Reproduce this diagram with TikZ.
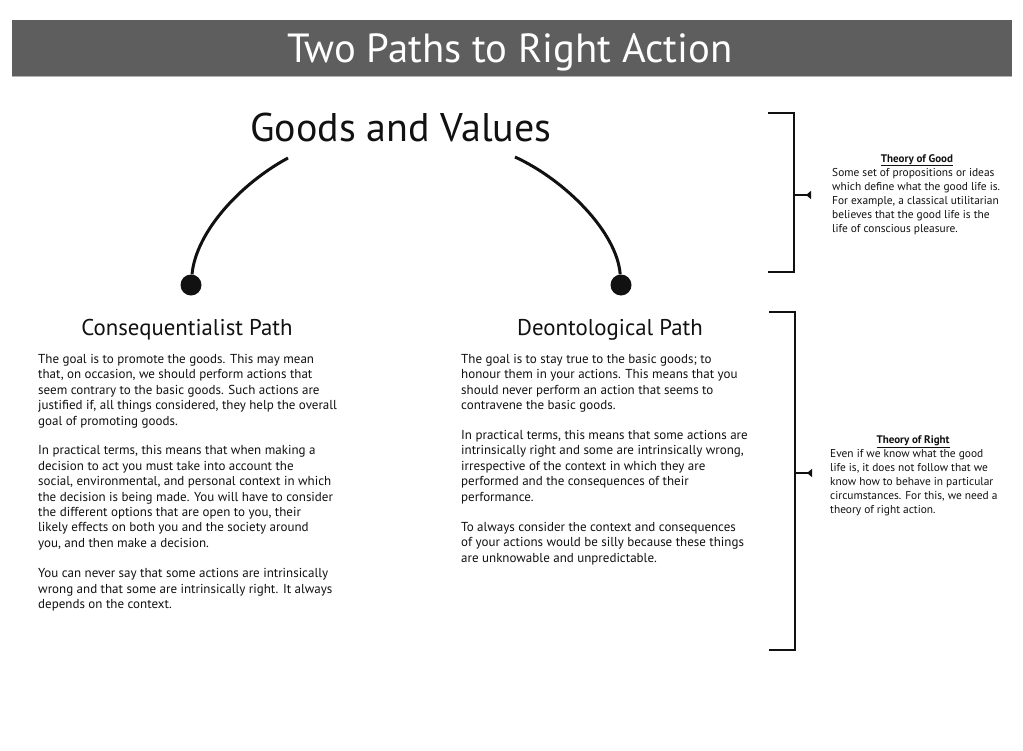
\documentclass[tikz,border=0pt]{standalone}
\usepackage{fontspec}
\setmainfont{PT Sans}
\usetikzlibrary{arrows.meta}
\definecolor{bargray}{HTML}{5E5E5E}
\definecolor{ink}{HTML}{111111}
\tikzset{
  body/.style={anchor=north west, align=left, inner sep=0pt, text=ink,
    font=\fontsize{13}{15.4}\selectfont},
  side/.style={anchor=north west, align=left, inner sep=0pt, text=ink,
    font=\fontsize{11.4}{14}\selectfont},
  sidehead/.style={anchor=base, inner sep=0pt, text=ink,
    font=\fontsize{11}{14}\selectfont\bfseries},
  pathhead/.style={anchor=base, inner sep=0pt, text=ink,
    font=\fontsize{22.8}{26}\selectfont},
  enddot/.style={circle, fill=ink, minimum size=21pt, inner sep=0pt},
  arcline/.style={line width=3pt, ink},
  bracket/.style={line width=1.8pt, ink},
  tick/.style={line width=1.8pt, ink, -{Triangle[reversed,length=5pt,width=8pt]}},
}
\begin{document}
\begin{tikzpicture}[x=1pt,y=-1pt]
\useasboundingbox (0,0) rectangle (1023,750);
\fill[white] (0,0) rectangle (1023,750);
% title bar
\node[fill=bargray, minimum width=1000pt, minimum height=56pt, inner sep=0pt] (bar) at (512,48) {};
\draw[gray!60, line width=1pt] (bar.south west) -- (bar.south east);
\node[anchor=base, text=white, inner sep=0pt, font=\fontsize{40.7}{44}\selectfont] (title) at (510,62) {Two Paths to Right Action};
% goods and values
\node[anchor=base, inner sep=0pt, text=ink, font=\fontsize{40}{44}\selectfont] (goods) at (401,141) {Goods and Values};
\coordinate (g1) at (288,158);
\coordinate (g2) at (515,157);
\node[enddot] (d1) at (191,285) {};
\node[enddot] (d2) at (621,285) {};
\draw[arcline] (g1) .. controls (240,184) and (196,232) .. (d1);
\draw[arcline] (g2) .. controls (565,180) and (617,232) .. (d2);
% path headings
\node[pathhead] (conhead) at (187,335) {Consequentialist Path};
\node[pathhead] (deohead) at (610,335) {Deontological Path};
% left column
\node[body] (contxt) at (38,354) {The goal is to promote the goods. This may mean\\
that, on occasion, we should perform actions that\\
seem contrary to the basic goods. Such actions are\\
justified if, all things considered, they help the overall\\
goal of promoting goods.\\[14.5pt]
In practical terms, this means that when making a\\
decision to act you must take into account the\\
social, environmental, and personal context in which\\
the decision is being made. You will have to consider\\
the different options that are open to you, their\\
likely effects on both you and the society around\\
you, and then make a decision.\\[15pt]
You can never say that some actions are intrinsically\\
wrong and that some are intrinsically right. It always\\
depends on the context.};
% middle column
\node[body] (deotxt) at (461,354) {The goal is to stay true to the basic goods; to\\
honour them in your actions. This means that you\\
should never perform an action that seems to\\
contravene the basic goods.\\[14.5pt]
In practical terms, this means that some actions are\\
intrinsically right and some are intrinsically wrong,\\
irrespective of the context in which they are\\
performed and the consequences of their\\
performance.\\[15pt]
To always consider the context and consequences\\
of your actions would be silly because these things\\
are unknowable and unpredictable.};
% brackets
\coordinate (b1a) at (768,113);
\coordinate (b1b) at (794,113);
\coordinate (b1c) at (794,272);
\coordinate (b1d) at (768,272);
\coordinate (t1s) at (794,195);
\coordinate (t1e) at (811,195);
\draw[bracket] (b1a) -- (b1b) -- (b1c) -- (b1d);
\draw[tick] (t1s) -- (t1e);
\coordinate (b2a) at (769,312);
\coordinate (b2b) at (795,312);
\coordinate (b2c) at (795,650);
\coordinate (b2d) at (769,650);
\coordinate (t2s) at (795,473);
\coordinate (t2e) at (812,473);
\draw[bracket] (b2a) -- (b2b) -- (b2c) -- (b2d);
\draw[tick] (t2s) -- (t2e);
% side notes
\node[sidehead] (goodhead) at (917,162) {\underline{Theory of Good}};
\node[side] (goodtxt) at (832,168) {Some set of propositions or ideas\\
which define what the good life is.\\
For example, a classical utilitarian\\
believes that the good life is the\\
life of conscious pleasure.};
\node[sidehead] (righthead) at (913,443) {\underline{Theory of Right}};
\node[side] (righttxt) at (830,449) {Even if we know what the good\\
life is, it does not follow that we\\
know how to behave in particular\\
circumstances. For this, we need a\\
theory of right action.};
\end{tikzpicture}
\end{document}
